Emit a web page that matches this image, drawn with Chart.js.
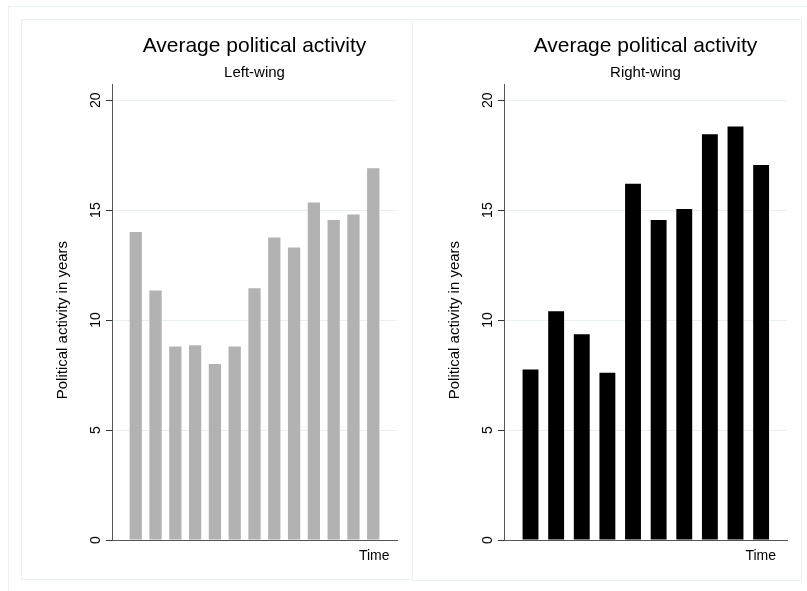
<!DOCTYPE html>
<html>
<head>
<meta charset="utf-8">
<script src="https://cdn.jsdelivr.net/npm/chart.js@4/dist/chart.umd.min.js"></script>
<style>
  html, body { margin:0; padding:0; background:#ffffff; }
  body { width:807px; height:591px; position:relative; overflow:hidden; font-family:"Liberation Sans", Arial, sans-serif; }
  .frame { position:absolute; border:1px solid #e9f1f1; box-sizing:border-box; }
  canvas { position:absolute; }
</style>
</head>
<body>
<div class="frame" style="left:8px; top:6px; width:820px; height:610px;"></div>
<div class="frame" style="left:21px; top:19px; width:392px; height:561px;"></div>
<div class="frame" style="left:412px; top:19px; width:390px; height:562px;"></div>
<canvas id="leftChart" width="391" height="560" style="left:21px; top:19px;"></canvas>
<canvas id="rightChart" width="388" height="560" style="left:413px; top:19px;"></canvas>
<script>
// ---- data ----
const mainTitle = "Average political activity";
const leftSubtitle = "Left-wing";
const rightSubtitle = "Right-wing";
const yAxisTitle = "Political activity in years";
const xAxisTitle = "Time";
const yTicks = [0, 5, 10, 15, 20];
const leftPeriods = [1, 2, 3, 4, 5, 6, 7, 8, 9, 10, 11, 12, 13];
const leftValues = [14.0, 11.35, 8.8, 8.85, 8.0, 8.8, 11.45, 13.75, 13.3, 15.35, 14.55, 14.8, 16.9];
const rightPeriods = [1, 2, 3, 4, 5, 6, 7, 8, 9, 10];
const rightValues = [7.75, 10.4, 9.35, 7.6, 16.2, 14.55, 15.05, 18.45, 18.8, 17.05];

const FONT = "'Liberation Sans', Arial, sans-serif";

const textPlugin = {
  id: 'stataText',
  afterDraw(chart, args, opts) {
    const ctx = chart.ctx;
    const ca = chart.chartArea;
    const y = chart.scales.y;
    ctx.save();
    ctx.fillStyle = '#000';
    // y tick labels, rotated
    ctx.font = '14px ' + FONT;
    ctx.textAlign = 'center';
    ctx.textBaseline = 'middle';
    yTicks.forEach(v => {
      const py = y.getPixelForValue(v);
      ctx.save();
      ctx.translate(ca.left - 16, py);
      ctx.rotate(-Math.PI / 2);
      ctx.fillText(String(v), 0, 0);
      ctx.restore();
    });
    // y axis title
    ctx.font = '15px ' + FONT;
    ctx.save();
    ctx.translate(ca.left - 49, y.getPixelForValue(10));
    ctx.rotate(-Math.PI / 2);
    ctx.fillText(yAxisTitle, 0, 0);
    ctx.restore();
    // x axis title
    ctx.font = '14px ' + FONT;
    ctx.textAlign = 'right';
    ctx.textBaseline = 'alphabetic';
    ctx.fillText(xAxisTitle, ca.right - opts.timeOffset, 541);
    ctx.restore();
  }
};

function makeChart(id, periods, values, color, subtitle, xmin, xmax, rightPad, timeOffset) {
  return new Chart(document.getElementById(id), {
    type: 'bar',
    data: {
      datasets: [{
        data: periods.map((p, i) => ({ x: p, y: values[i] })),
        backgroundColor: color,
        borderWidth: 0,
        barPercentage: 0.62,
        categoryPercentage: 1.0
      }]
    },
    options: {
      responsive: false,
      animation: false,
      devicePixelRatio: 1,
      layout: { padding: { left: 0, right: rightPad, top: 0, bottom: 0 } },
      plugins: {
        legend: { display: false },
        tooltip: { enabled: false },
        title: {
          display: true, text: mainTitle, fullSize: false,
          color: '#000', font: { family: FONT, size: 21, weight: 'normal', lineHeight: 1.2 },
          padding: { top: 15, bottom: 0 }
        },
        subtitle: {
          display: true, text: subtitle, fullSize: false,
          color: '#000', font: { family: FONT, size: 15, weight: 'normal', lineHeight: 1.2 },
          padding: { top: 4.2, bottom: 2.7 }
        },
        stataText: { timeOffset: timeOffset }
      },
      scales: {
        x: {
          type: 'linear',
          min: xmin, max: xmax,
          offset: false,
          ticks: { display: false },
          grid: { display: false, offset: false },
          border: { display: true, color: '#555', width: 1 },
          afterFit(scale) { scale.height = 39; }
        },
        y: {
          type: 'linear',
          min: 0, max: 20.73,
          afterBuildTicks(scale) { scale.ticks = yTicks.map(v => ({ value: v })); },
          ticks: { display: false },
          grid: { color: '#e8f0f0', tickColor: '#333', tickLength: 6, lineWidth: 1, drawTicks: true },
          border: { display: true, color: '#555', width: 1 },
          afterFit(scale) { scale.width = 91; }
        }
      }
    },
    plugins: [textPlugin]
  });
}

makeChart('leftChart', leftPeriods, leftValues, '#b2b2b2', leftSubtitle, -0.2, 14.2, 15, 7.5);
makeChart('rightChart', rightPeriods, rightValues, '#000000', rightSubtitle, -0.035, 11.01, 14, 11);
</script>
</body>
</html>
